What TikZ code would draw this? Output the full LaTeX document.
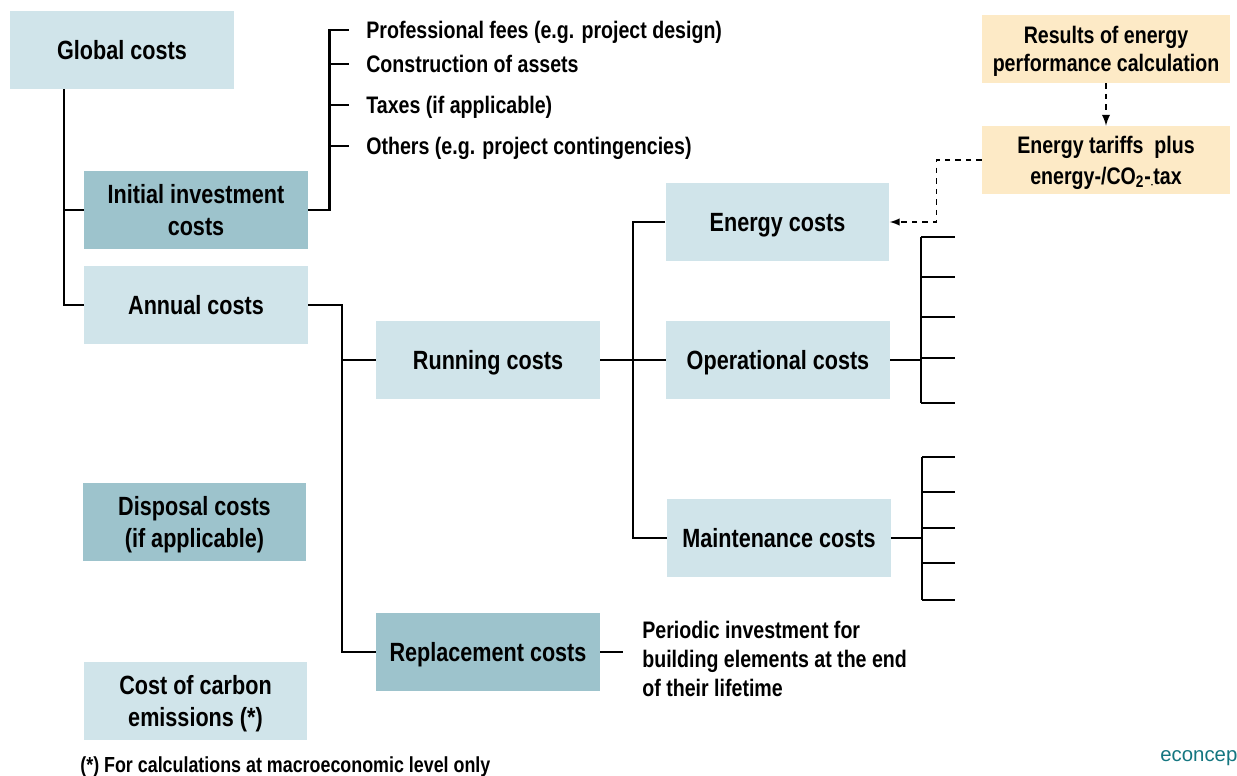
\documentclass[tikz,border=0pt]{standalone}
\usepackage{fontspec}
\setmainfont{Liberation Sans}[FakeStretch=0.82]
\newfontfamily\brandfont{Liberation Sans}
\usepackage{tikz}
\usetikzlibrary{calc}
\usetikzlibrary{shapes,arrows}
\definecolor{paleblue}{RGB}{208,228,234}
\definecolor{greyblue}{RGB}{157,195,204}
\definecolor{sand}{RGB}{253,234,198}
\definecolor{econteal}{RGB}{20,118,128}

\begin{document}
\begin{tikzpicture}[x=0.02cm,y=-0.02cm]
		\tikzstyle{every node}=[font=\bfseries\fontsize{15}{18}\selectfont]
		\tikzstyle{cost}=[fill=paleblue, minimum width=4.48cm, minimum height=1.56cm, align=center, inner sep=0, text depth=-0.3em]
		\tikzstyle{main}=[cost, fill=greyblue]
		\tikzstyle{input}=[fill=sand, minimum width=4.96cm, minimum height=1.36cm, align=center, inner sep=0, text depth=-0.35em, font=\bfseries\fontsize{13.6}{16.2}\selectfont]
		\tikzstyle{item}=[anchor=west, inner xsep=0.34cm, inner ysep=0, text depth=-0.1em, font=\bfseries\fontsize{13.6}{16.4}\selectfont]
		\tikzstyle{link}=[line width=1.1pt]
		\useasboundingbox (0,0) rectangle (1237,776);
		
		% boxes
		\node [cost] (glob) at (122,50) {Global costs};
		\node [main] (init) at (196,210) {Initial investment\\costs};
		\node [cost] (annual) at (196,305) {Annual costs};
		\node [main] (disp) at (194.5,522) {Disposal costs\\(if applicable)};
		\node [cost] (carbon) at (195.5,701) {Cost of carbon\\emissions (*)};
		\node [cost] (run) at (488,360) {Running costs};
		\node [main] (repl) at (488,652) {Replacement costs};
		\node [cost] (energy) at (777.5,222) {Energy costs};
		\node [cost] (oper) at (778,360) {Operational costs};
		\node [cost] (maint) at (779,538) {Maintenance costs};
		\node [input] (results) at (1106,49) {Results of energy\\performance calculation};
		\node [input] (tariffs) at (1106,160) {Energy tariffs\ \ plus\\[1.5pt]energy-/CO\textsubscript{2}-\raisebox{-0.25ex}{\tiny-}tax};
		
		% items
		\node [item] (fee1) at (349,30) {Professional fees (e.g. project design)};
		\node [item] (fee2) at (349,64) {Construction of assets};
		\node [item] (fee3) at (349,105) {Taxes (if applicable)};
		\node [item] (fee4) at (349,146) {Others (e.g. project contingencies)};
		\node [item, inner xsep=0.38cm, text depth=0pt, align=left] (period) at (623,659) {Periodic investment for\\building elements at the end\\of their lifetime};
		
		% tree
		\draw [link] ($(glob.south west)+(54,0)$) coordinate (gb) |- (annual.west);
		\draw [link] (gb |- init.west) -- (init.west);
		\draw [line width=1.6pt] (init.east) -- ++(21,0) coordinate (ib) |- (fee1.west);
		\foreach \n in {fee2,fee3,fee4}
			\draw [link] (ib |- \n.west) -- (\n.west);
		\draw [link] (annual.east) -- ++(34,0) coordinate (ab) |- (repl.west);
		\draw [link] (ab |- run.west) -- (run.west);
		\draw [link] (run.east) -- ++(33,0) coordinate (rb) -- (oper.west);
		\draw [link] (energy.west) -| (rb) |- (maint.west);
		\draw [link] (repl.east) -- (repl.east -| period.west);
		
		\draw [link] (oper.east) -- ++(31,0) coordinate (ob);
		\draw [link] (ob |- 0,237) -- (ob |- 0,403);
		\foreach \y in {237,277,317,358,403}
			\draw [link] (ob |- 0,\y) -- (955,\y);
		\draw [link] (maint.east) -- ++(31,0) coordinate (mb);
		\draw [link] (mb |- 0,457) -- (mb |- 0,600);
		\foreach \y in {457,492,528,563,600}
			\draw [link] (mb |- 0,\y) -- (955,\y);
		
		% inputs
		\draw [link, dashed, -latex] (results.south) -- (tariffs.north);
		\draw [line width=0.9pt, dashed, -latex] (tariffs.west) -- ++(-45,0) |- (energy.east);
		
		\node [anchor=west, inner sep=0, font=\bfseries\fontsize{12.4}{15}\selectfont] (note) at (80,767) {(*) For calculations at macroeconomic level only};
		\node [anchor=west, inner sep=0, text=econteal, font=\brandfont\fontsize{11.6}{14}\selectfont] (brand) at (1160,757) {econcept};
		
\end{tikzpicture}
\end{document}
